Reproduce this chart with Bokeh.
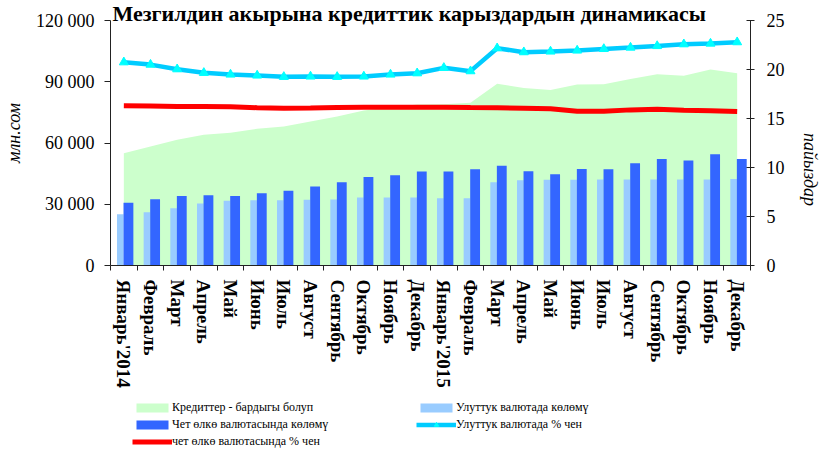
import numpy as np
from bokeh.plotting import figure
from bokeh.layouts import column
from bokeh.models import (Range1d, LinearAxis, FixedTicker, Legend, LegendItem, Label)
from bokeh.embed import file_html
from bokeh.resources import INLINE

title_text = "Мезгилдин акырына кредиттик карыздардын динамикасы"
left_title = "млн.сом"
right_title = "пайыздар"

months = ["Январь'2014", "Февраль", "Март", "Апрель", "Май", "Июнь", "Июль",
          "Август", "Сентябрь", "Октябрь", "Ноябрь", "Декабрь",
          "Январь'2015", "Февраль", "Март", "Апрель", "Май", "Июнь", "Июль",
          "Август", "Сентябрь", "Октябрь", "Ноябрь", "Декабрь"]

total_credit = [55000, 58300, 61600, 64000, 65000, 67000, 68100, 70500, 73000, 75900, 77500, 78800,
                79000, 79700, 89000, 87000, 86000, 88600, 88800, 91400, 93700, 93000, 96000, 94200]
national_volume = [25100, 26100, 28100, 30400, 31700, 32000, 32000, 32200, 32300, 33300, 33300, 33300,
                   33000, 33000, 40800, 41800, 42000, 42000, 42100, 42100, 42100, 42100, 42100, 42400]
foreign_volume = [30700, 32500, 34100, 34400, 34100, 35400, 36600, 38700, 40800, 43400, 44200, 46000,
                  46000, 47200, 48800, 46200, 44700, 47300, 47200, 50100, 52200, 51400, 54500, 52200]
national_rate = [20.74, 20.5, 20.03, 19.66, 19.49, 19.39, 19.25, 19.29, 19.25, 19.29, 19.49, 19.62,
                 20.17, 19.83, 22.17, 21.77, 21.84, 21.94, 22.1, 22.24, 22.4, 22.58, 22.65, 22.79]
foreign_rate = [16.3, 16.27, 16.22, 16.22, 16.2, 16.1, 16.05, 16.08, 16.12, 16.15, 16.15, 16.15,
                16.15, 16.12, 16.1, 16.05, 16.0, 15.75, 15.75, 15.88, 15.95, 15.85, 15.8, 15.72]

left_ticks = [0, 30000, 60000, 90000, 120000]
right_ticks = [0, 5, 10, 15, 20, 25]

legend_labels = ["Кредиттер - бардыгы болуп", "Улуттук валютада көлөмү",
                 "Чет өлкө валютасында көлөмү", "Улуттук валютада % чен",
                 "чет өлкө валютасында % чен"]

FONT = "Liberation Serif"
GREEN, LIGHT, DARK, CYAN, TRI, RED = "#CCFFCC", "#99CCFF", "#3366FF", "#00CCFF", "#00FFFF", "#FF0000"
n = len(months)
xc = [i + 0.5 for i in range(n)]

# frame spans canvas rows 0..265; the axes end at row 20 (their max tick)
FRAME_H, AXIS_H = 265, 245
left_max = left_ticks[-1] * FRAME_H / AXIS_H
right_max = right_ticks[-1] * FRAME_H / AXIS_H

p = figure(width=832, height=399, output_backend="svg", toolbar_location=None,
           x_range=Range1d(0, n), y_range=Range1d(0, left_max),
           min_border_left=108, min_border_right=73, min_border_top=0, min_border_bottom=134,
           x_axis_location=None, y_axis_location=None)
p.extra_y_ranges = {"pct": Range1d(0, right_max)}
p.xgrid.grid_line_color = None
p.ygrid.grid_line_color = None
p.outline_line_color = None

p.varea(x=xc, y1=[0] * n, y2=total_credit, fill_color=GREEN)
p.vbar(x=[x - 0.133 for x in xc], top=national_volume, width=0.247, fill_color=LIGHT, line_color=None)
p.vbar(x=[x + 0.173 for x in xc], top=foreign_volume, width=0.369, fill_color=DARK, line_color=None)
p.line(xc, foreign_rate, y_range_name="pct", line_color=RED, line_width=5)
p.line(xc, national_rate, y_range_name="pct", line_color=CYAN, line_width=4.5)
p.scatter(xc, national_rate, y_range_name="pct", marker="triangle", size=9,
          fill_color=TRI, line_color=TRI)

axis_color = "#222222"
xaxis = LinearAxis(ticker=FixedTicker(ticks=xc, minor_ticks=list(range(n + 1))),
                   major_label_overrides={x: m for x, m in zip(xc, months)},
                   major_label_orientation="vertical",
                   major_tick_line_color=None, major_tick_out=0, major_tick_in=0,
                   minor_tick_line_color=axis_color, minor_tick_out=5, minor_tick_in=0,
                   major_label_standoff=9, axis_line_color=axis_color,
                   major_label_text_font=FONT, major_label_text_font_style="bold",
                   major_label_text_font_size="19px", major_label_text_color="black")
p.add_layout(xaxis, "below")

yaxis = LinearAxis(ticker=FixedTicker(ticks=left_ticks), bounds=(0, left_ticks[-1]),
                   major_label_overrides={v: f"{v:,}".replace(",", " ") for v in left_ticks},
                   major_tick_out=6, major_tick_in=0, minor_tick_line_color=None,
                   major_label_standoff=10, axis_line_color=axis_color,
                   major_tick_line_color=axis_color,
                   major_label_text_font=FONT, major_label_text_font_size="18px",
                   major_label_text_color="black",
                   axis_label=left_title, axis_label_standoff=9,
                   axis_label_text_font=FONT, axis_label_text_font_style="italic",
                   axis_label_text_font_size="18px", axis_label_text_color="black")
p.add_layout(yaxis, "left")

raxis = LinearAxis(y_range_name="pct", ticker=FixedTicker(ticks=right_ticks),
                   bounds=(0, right_ticks[-1]),
                   major_tick_out=4, major_tick_in=4, minor_tick_line_color=None,
                   major_label_standoff=12, axis_line_color=axis_color,
                   major_tick_line_color=axis_color,
                   major_label_text_font=FONT, major_label_text_font_style="normal",
                   major_label_text_font_size="18px", major_label_text_color="black",
                   axis_label=right_title, axis_label_standoff=22,
                   axis_label_text_font=FONT, axis_label_text_font_style="italic",
                   axis_label_text_font_size="18px", axis_label_text_color="black")
if "axis_label_orientation" in LinearAxis.properties():
    raxis.axis_label_orientation = -np.pi / 2
p.add_layout(raxis, "right")

p.add_layout(Label(x=2, y=FRAME_H - 13, x_units="screen", y_units="screen", text=title_text,
                   text_font=FONT, text_font_style="bold", text_font_size="22px",
                   text_baseline="alphabetic", text_color="black"))

# legend strip: its renderers are hidden, only the legend entries are drawn
lg = figure(width=832, height=50, output_backend="svg", toolbar_location=None,
            x_range=Range1d(0, 1), y_range=Range1d(0, 1),
            min_border_left=0, min_border_right=0, min_border_top=0, min_border_bottom=0,
            x_axis_location=None, y_axis_location=None)
lg.xgrid.grid_line_color = None
lg.ygrid.grid_line_color = None
lg.outline_line_color = None
r_area = lg.varea(x=xc, y1=[0] * n, y2=total_credit, fill_color=GREEN, visible=False)
r_light = lg.vbar(x=xc, top=national_volume, width=0.5, fill_color=LIGHT, line_color=None, visible=False)
r_dark = lg.vbar(x=xc, top=foreign_volume, width=0.5, fill_color=DARK, line_color=None, visible=False)
r_red = lg.line(xc, foreign_rate, line_color=RED, line_width=5, visible=False)
r_cyan = lg.line(xc, national_rate, line_color=CYAN, line_width=4.5, visible=False)
r_tri = lg.scatter(xc, national_rate, marker="triangle", size=9, fill_color=TRI, line_color=TRI,
                   visible=False)

leg_common = dict(orientation="vertical", margin=0, padding=0, spacing=0,
                  border_line_color=None, background_fill_alpha=0,
                  glyph_width=40, glyph_height=11, label_height=17, label_standoff=0,
                  label_text_font=FONT, label_text_font_size="12px", label_text_color="black")
leg1 = Legend(items=[LegendItem(label=legend_labels[0], renderers=[r_area]),
                     LegendItem(label=legend_labels[2], renderers=[r_dark]),
                     LegendItem(label=legend_labels[4], renderers=[r_red])],
              location=(22, -1), **leg_common)
leg2 = Legend(items=[LegendItem(label=legend_labels[1], renderers=[r_light]),
                     LegendItem(label=legend_labels[3], renderers=[r_cyan, r_tri])],
              location=(306, 16), **leg_common)
lg.add_layout(leg1)
lg.add_layout(leg2)

open("out.html", "w").write(file_html(column(p, lg, spacing=0), INLINE))
